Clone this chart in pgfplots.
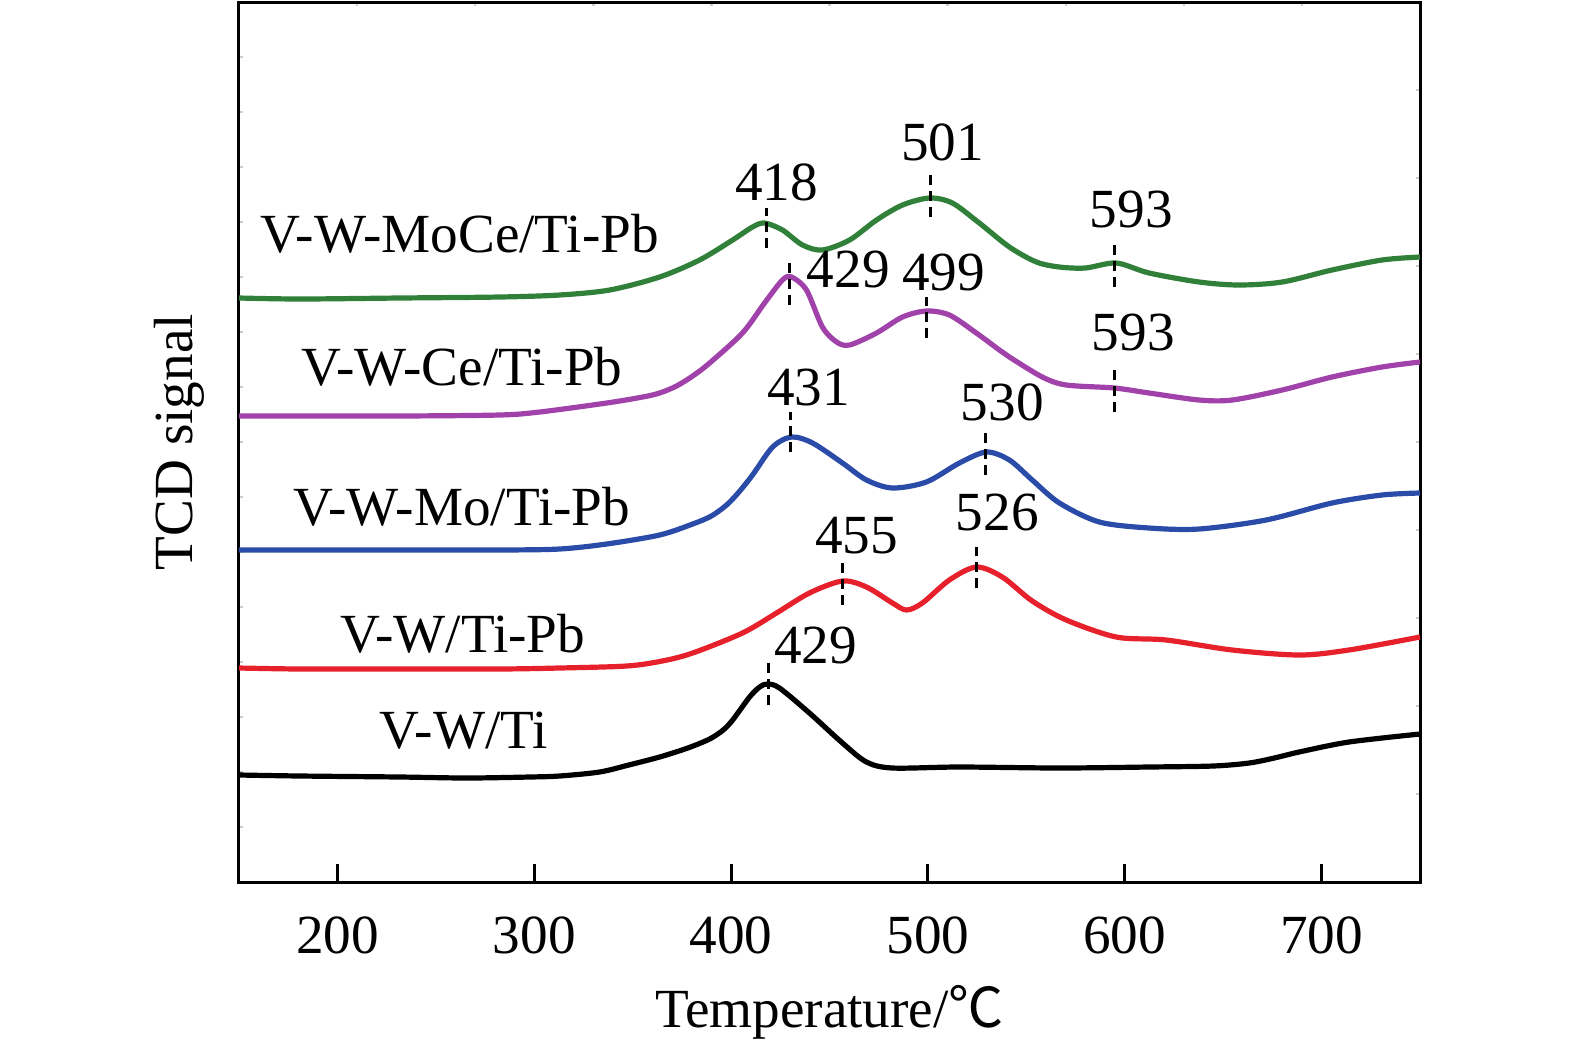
\documentclass[border=0pt]{standalone}
\usepackage{fontspec}
\setmainfont{Liberation Serif}
\newfontfamily\cjk{Noto Sans CJK SC}
\usepackage{pgfplots}
\pgfplotsset{compat=1.18}
\definecolor{cgreen}{RGB}{48,128,58}
\definecolor{cpurple}{RGB}{160,66,170}
\definecolor{cblue}{RGB}{42,76,168}
\definecolor{cred}{RGB}{230,33,43}
\begin{document}
\fontsize{13.8}{16.5}\selectfont
\begin{tikzpicture}
\path[use as bounding box] (-59.75pt,-40.25pt) rectangle (334pt,220.5pt);
% faint ticks (top / left)
\begin{axis}[
  scale only axis, width=295.25pt, height=220pt,
  xmin=150, xmax=750, ymin=0, ymax=880,
  axis line style={draw=none},
  xtick={210,270,...,690}, xtick pos=right,
  ytick={55,110,...,825}, ytick pos=left,
  xticklabels={}, yticklabels={},
  tick align=inside, major tick length=1pt,
  tick style={gray!40, line width=0.6pt},
]
\end{axis}
% faint ticks (right)
\begin{axis}[
  scale only axis, width=295.25pt, height=220pt,
  xmin=150, xmax=750, ymin=0, ymax=880,
  axis line style={draw=none},
  xtick=\empty,
  ytick={88,176,...,792}, ytick pos=right,
  yticklabels={},
  tick align=inside, major tick length=1pt,
  tick style={gray!40, line width=0.6pt},
]
\end{axis}
\begin{axis}[
  scale only axis, width=295.25pt, height=220pt,
  xmin=150, xmax=750, ymin=0, ymax=880,
  clip=false,
  axis line style={black, line width=0.75pt},
  xtick={200,300,...,700}, xtick pos=left,
  ytick=\empty,
  tick align=inside, major tick length=4.5pt,
  tick style={black, line width=0.75pt},
  /pgf/number format/assume math mode=true,
  xticklabel style={anchor=base, yshift=-17.75pt},
  xlabel={Temperature/{\cjk ℃}},
  xlabel style={at={(axis description cs:0.5,-0.1648)}, anchor=base},
  ylabel={TCD signal},
  ylabel style={at={(axis description cs:-0.03895,0.5)}, anchor=base},
]
% V-W/Ti
\addplot[black, line width=1.3pt, smooth] coordinates {
(150,107) (181,106) (231.7,105) (265.7,104) (297.7,105) (312.9,106) (333.2,110)
(348,117) (363.7,125) (378,134) (389.1,143) (396,152) (400.8,162) (409.4,185) (414.5,195) (418.5,198) (424.6,194)
(439.8,169) (456.6,139) (468.8,120) (482.0,114) (516.0,115) (566.8,114) (612.4,115)
(645,116) (663.2,119) (676,124) (688.6,130) (713.9,140) (750,148)};
% V-W/Ti-Pb
\addplot[cred, line width=1.3pt, smooth] coordinates {
(150,214) (181,213) (231.7,213) (282.5,213) (312.9,214) (347.0,216) (365,221) (380.5,229)
(405.8,249) (423.1,269) (439.8,289) (456.6,301) (468.8,295) (482.0,279) (489.1,272)
(497.2,279) (510.9,302) (524.6,315) (537.8,305) (553.0,281) (570.3,262) (595.7,245)
(621.1,242) (654.6,232) (688.6,227) (713.9,232) (750,245)};
% V-W-Mo/Ti-Pb
\addplot[cblue, line width=1.3pt, smooth] coordinates {
(150,332) (181,332) (231.7,332) (282.5,332) (312.9,333) (336.8,338) (363.7,347)
(380.5,358) (390,366) (397.7,377) (404,390) (410.9,407) (421.1,435) (430.7,445) (441.4,439) (456.6,419) (468.8,402)
(482.0,394) (499.2,400) (516.0,419) (529.7,430) (541.4,422) (553.0,402) (566.8,379)
(587.1,360) (612.4,354) (637.8,353) (671.8,362) (705.3,379) (730.7,387) (750,389)};
% V-W-Ce/Ti-Pb
\addplot[cpurple, line width=1.3pt, smooth] coordinates {
(150,466) (181,466) (231.7,466) (282.5,467) (302.8,470) (336.8,479) (355.1,485)
(363.7,489) (372.3,496) (380.5,506) (389.1,519) (405.8,549) (417.0,579) (426.1,602) (430.7,605) (438.3,592)
(446.4,555) (453.6,540) (460.2,537) (473.9,549) (487.1,565) (499.2,571) (510.9,567)
(524.6,549) (536.3,532) (541.4,525) (558.1,505) (570.3,497) (594.7,494) (612.4,489)
(637.8,482) (654.6,482) (680.0,492) (705.3,505) (730.7,515) (750,520)};
% V-W-MoCe/Ti-Pb
\addplot[cgreen, line width=1.3pt, smooth] coordinates {
(150,584) (181,583) (231.7,584) (282.5,585) (312.9,587) (338.3,592) (363.7,605)
(384.0,622) (400.8,642) (410.9,655) (417.0,659) (426.1,652) (436.3,637) (446.4,632)
(460.2,642) (473.9,662) (487.1,677) (500.8,684) (512.4,679) (526.1,659) (541.4,635)
(555.1,620) (566.8,615) (580.0,614) (595.7,619) (612.4,609) (637.8,600) (658.1,597)
(680.0,600) (705.3,612) (730.7,622) (750,625)};
% peak markers
\addplot[black, line width=0.6pt, dash pattern=on 2.5pt off 1.5pt] coordinates {(419.0,177) (419.0,219)};
\addplot[black, line width=0.6pt, dash pattern=on 2.5pt off 1.5pt] coordinates {(456.6,277) (456.6,319)};
\addplot[black, line width=0.6pt, dash pattern=on 2.5pt off 1.5pt] coordinates {(524.6,294) (524.6,335)};
\addplot[black, line width=0.6pt, dash pattern=on 2.5pt off 1.5pt] coordinates {(430.2,430) (430.2,470)};
\addplot[black, line width=0.6pt, dash pattern=on 2.5pt off 1.5pt] coordinates {(529.2,407) (529.2,449)};
\addplot[black, line width=0.6pt, dash pattern=on 2.5pt off 1.5pt] coordinates {(429.7,577) (429.7,619)};
\addplot[black, line width=0.6pt, dash pattern=on 2.5pt off 1.5pt] coordinates {(499.2,544) (499.2,585)};
\addplot[black, line width=0.6pt, dash pattern=on 2.5pt off 1.5pt] coordinates {(594.7,470) (594.7,512)};
\addplot[black, line width=0.6pt, dash pattern=on 2.5pt off 1.5pt] coordinates {(418.0,634) (418.0,674)};
\addplot[black, line width=0.6pt, dash pattern=on 2.5pt off 1.5pt] coordinates {(501.3,665) (501.3,707)};
\addplot[black, line width=0.6pt, dash pattern=on 2.5pt off 1.5pt] coordinates {(594.7,595) (594.7,637)};
% peak labels
\node[anchor=base] at (axis cs:442.9,219) {429};
\node[anchor=base] at (axis cs:463.7,329) {455};
\node[anchor=base] at (axis cs:535.3,352) {526};
\node[anchor=base] at (axis cs:439.3,477) {431};
\node[anchor=base] at (axis cs:537.8,462) {530};
\node[anchor=base] at (axis cs:459.6,595) {429};
\node[anchor=base] at (axis cs:507.9,592) {499};
\node[anchor=base] at (axis cs:604.3,532) {593};
\node[anchor=base] at (axis cs:423.1,682) {418};
\node[anchor=base] at (axis cs:507.4,722) {501};
\node[anchor=base] at (axis cs:603.3,655) {593};
% series labels
\node[anchor=base] at (axis cs:262.2,630) {V-W-MoCe/Ti-Pb};
\node[anchor=base] at (axis cs:263.2,497) {V-W-Ce/Ti-Pb};
\node[anchor=base] at (axis cs:263.2,357) {V-W-Mo/Ti-Pb};
\node[anchor=base] at (axis cs:263.7,230) {V-W/Ti-Pb};
\node[anchor=base] at (axis cs:264.2,134) {V-W/Ti};
\end{axis}
\end{tikzpicture}
\end{document}
